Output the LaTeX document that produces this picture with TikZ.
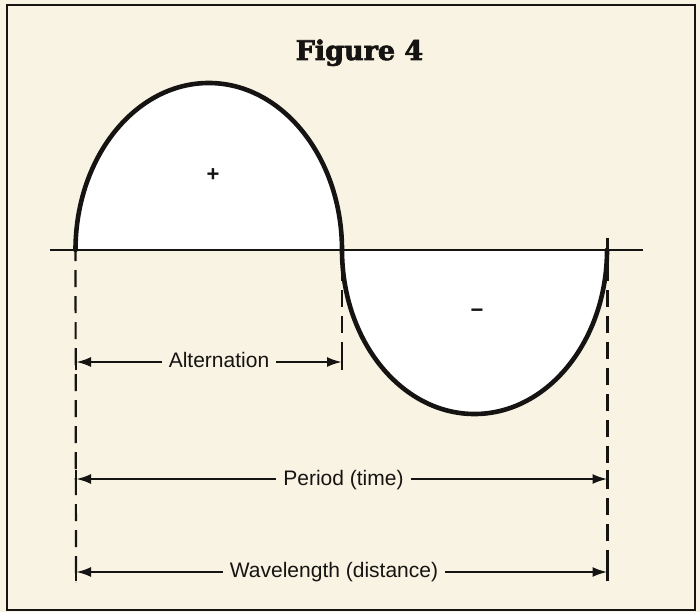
\documentclass[tikz,border=0pt]{standalone}
\usepackage{fontspec}
\setmainfont{Liberation Sans}
\newfontfamily\titlefont{DejaVu Serif}[BoldFeatures={FakeBold=2.5}]
\usetikzlibrary{arrows.meta}
\definecolor{paper}{RGB}{248,243,227}
\definecolor{ink}{RGB}{22,20,18}
\begin{document}
\begin{tikzpicture}[x=1pt,y=-1pt,
  wave/.style={draw=ink,line width=4.6pt,line cap=round},
  axisline/.style={draw=ink,line width=2pt},
  guide/.style={draw=ink,line width=2.2pt,dash pattern=on 17pt off 9pt},
  dimline/.style={draw=ink,line width=2.4pt,-{Latex[length=15pt,width=10pt]}},
  tickbar/.style={draw=ink,line width=2.8pt},
  dimlabel/.style={font=\fontsize{21}{21}\selectfont,text=ink,inner xsep=7pt,inner ysep=0pt,anchor=base},
  sign/.style={font=\bfseries\fontsize{22}{22}\selectfont,text=ink,inner sep=0pt}]
\fill[paper] (0,0) rectangle (700,612);
\useasboundingbox (0,0) rectangle (700,612);
% frame
\draw[ink,line width=2.5pt] (7,5) rectangle (695,610);
% title
\node[font=\titlefont\bfseries\fontsize{27}{27}\selectfont,text=ink,anchor=base,inner sep=0pt] (title) at (359.5,60) {Figure 4};
% zero crossings
\coordinate (z0) at (75.5,250);
\coordinate (z1) at (342,250);
\coordinate (z2) at (607,250);
% lobes filled
\fill[white] (z0) arc[start angle=180,end angle=360,x radius=133.25,y radius=167] -- cycle;
\fill[white] (z1) arc[start angle=180,end angle=0,x radius=132.5,y radius=164] -- cycle;
% axis
\coordinate (axL) at (50,250);
\coordinate (axR) at (643,250);
\draw[axisline] (axL) -- (axR);
% wave
\draw[wave] (z0) arc[start angle=180,end angle=360,x radius=133.25,y radius=167]
               arc[start angle=180,end angle=0,x radius=132.5,y radius=164];
% signs
\node[sign] (plus) at (213,175) {+};
\node[sign] (minus) at (477,313) {−};
% guide lines
\coordinate (g0) at (76,582);
\coordinate (g1) at (342,370);
\coordinate (g2) at (607.5,580);
\draw[guide] ([yshift=6pt]z0) -- (g0);
\draw[guide] ([yshift=12pt]z1) -- (g1);
\draw[guide] ([yshift=12pt]z2 -| g2) -- (g2);
% Alternation
\coordinate (aL) at (76,362);
\coordinate (aR) at (342,362);
\node[dimlabel] (alt) at (219,367) {Alternation};
\draw[dimline] (alt.west |- aL) -- (aL);
\draw[dimline] (alt.east |- aR) -- (aR);
\draw[tickbar] ([yshift=-8pt]aL) -- ([yshift=8pt]aL);
\draw[tickbar] ([yshift=-8pt]aR) -- ([yshift=8pt]aR);
% Period
\coordinate (pL) at (76,479);
\coordinate (pR) at (607.5,479);
\node[dimlabel] (per) at (343.5,485) {Period (time)};
\draw[dimline] (per.west |- pL) -- (pL);
\draw[dimline] (per.east |- pR) -- (pR);
\draw[tickbar] ([yshift=-9pt]pL) -- ([yshift=9pt]pL);
\draw[tickbar] ([yshift=-9pt]pR) -- ([yshift=9pt]pR);
% Wavelength
\coordinate (wL) at (76,572);
\coordinate (wR) at (607.5,572);
\node[dimlabel] (wav) at (334,577) {Wavelength (distance)};
\draw[dimline] (wav.west |- wL) -- (wL);
\draw[dimline] (wav.east |- wR) -- (wR);
\draw[tickbar] ([yshift=-9pt]wL) -- ([yshift=9pt]wL);
\draw[tickbar] ([yshift=-9pt]wR) -- ([yshift=9pt]wR);
\end{tikzpicture}
\end{document}
